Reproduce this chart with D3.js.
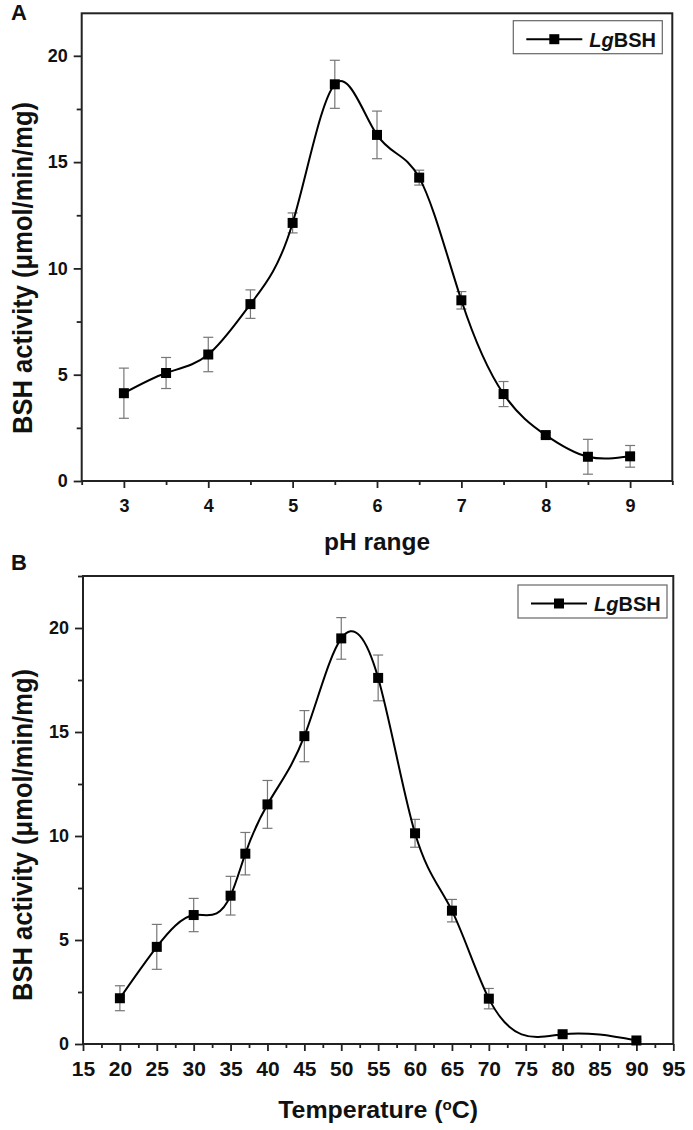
<!DOCTYPE html>
<html>
<head>
<meta charset="utf-8">
<script src="https://cdn.jsdelivr.net/npm/d3@7"></script>
<style>
    body { margin: 0; background: #fff; }
    svg text { font-family: "Liberation Sans", Arial, sans-serif; font-weight: bold; fill: #111; }
</style>
</head>
<body>
<div id="chart"></div>
<script>
// Panel A: activity vs pH
var phValues = [3, 3.5, 4, 4.5, 5, 5.5, 6, 6.5, 7, 7.5, 8, 8.5, 9];
var phActivity = [4.13, 5.08, 5.95, 8.32, 12.14, 18.66, 16.28, 14.27, 8.5, 4.09, 2.16, 1.14, 1.16];
var phError = [1.18, 0.73, 0.81, 0.67, 0.47, 1.13, 1.12, 0.35, 0.41, 0.59, 0.12, 0.82, 0.51];
var phTicks = [3, 4, 5, 6, 7, 8, 9];
var phMinorTicks = [2.5, 3.5, 4.5, 5.5, 6.5, 7.5, 8.5, 9.5];

// Panel B: activity vs temperature
var tempValues = [20, 25, 30, 35, 37, 40, 45, 50, 55, 60, 65, 70, 80, 90];
var tempActivity = [2.2, 4.67, 6.2, 7.13, 9.15, 11.52, 14.8, 19.5, 17.6, 10.13, 6.41, 2.18, 0.47, 0.17];
var tempError = [0.6, 1.08, 0.8, 0.93, 1.02, 1.15, 1.23, 1.0, 1.1, 0.67, 0.54, 0.49, 0.1, 0.06];
var tempTicks = [15, 20, 25, 30, 35, 40, 45, 50, 55, 60, 65, 70, 75, 80, 85, 90, 95];
var tempMinorTicks = [17.5, 22.5, 27.5, 32.5, 37.5, 42.5, 47.5, 52.5, 57.5, 62.5, 67.5, 72.5, 77.5, 82.5, 87.5, 92.5];

// shared y axis
var activityTicks = [0, 5, 10, 15, 20];
var activityMinorTicks = [2.5, 7.5, 12.5, 17.5, 22.5];
var yTitle = 'BSH activity (\u03bcmol/min/mg)';
var legendItalic = 'Lg';
var legendPlain = 'BSH';

var svg = d3.select('#chart').append('svg')
    .attr('width', 693)
    .attr('height', 1130);

/**
 * Natural cubic spline with y as a function of x (like Origin's "Spline" connect),
 * written as a d3 curve so it can be passed to d3.line().curve()
 */
function SplineX(context)
{
    this._context = context;
}
SplineX.prototype = {
    areaStart: function() {},
    areaEnd: function() {},
    lineStart: function() { this._x = []; this._y = []; },
    point: function(x, y) { this._x.push(+x); this._y.push(+y); },
    lineEnd: function() {
        var xs = this._x, ys = this._y, n = xs.length - 1, c = this._context;
        if (n < 1) return;
        var h = [], i;
        for (i = 0; i < n; i++) h.push(xs[i + 1] - xs[i]);

        // second derivatives, natural ends (tridiagonal solve)
        var M = new Array(n + 1).fill(0);
        if (n > 1) {
            var a = [], b = [], cc = [], r = [];
            for (i = 1; i < n; i++) {
                a.push(h[i - 1]);
                b.push(2 * (h[i - 1] + h[i]));
                cc.push(h[i]);
                r.push(6 * ((ys[i + 1] - ys[i]) / h[i] - (ys[i] - ys[i - 1]) / h[i - 1]));
            }
            var m = b.length;
            for (i = 1; i < m; i++) {
                var w = a[i] / b[i - 1];
                b[i] -= w * cc[i - 1];
                r[i] -= w * r[i - 1];
            }
            var sol = new Array(m);
            sol[m - 1] = r[m - 1] / b[m - 1];
            for (i = m - 2; i >= 0; i--) sol[i] = (r[i] - cc[i] * sol[i + 1]) / b[i];
            for (i = 0; i < m; i++) M[i + 1] = sol[i];
        }

        c.moveTo(xs[0], ys[0]);
        for (i = 0; i < n; i++) {
            var s = (ys[i + 1] - ys[i]) / h[i];
            var d0 = s - h[i] * (2 * M[i] + M[i + 1]) / 6;
            var d1 = s + h[i] * (M[i] + 2 * M[i + 1]) / 6;
            c.bezierCurveTo(
                xs[i] + h[i] / 3, ys[i] + d0 * h[i] / 3,
                xs[i + 1] - h[i] / 3, ys[i + 1] - d1 * h[i] / 3,
                xs[i + 1], ys[i + 1]);
        }
    }
};
function curveSplineX(context) { return new SplineX(context); }

/**
 * One panel of the figure
 */
function ActivityChart(svg, opts)
{
    var self = this;
    self.svg = svg;
    self.opts = opts;
    self.init();
}

ActivityChart.prototype.init = function()
{
    var self = this;
    var o = self.opts;

    self.x = d3.scaleLinear().domain(o.xDomain).range([o.left, o.right]);
    self.y = d3.scaleLinear().domain(o.yDomain).range([o.bottom, o.top]);
    self.g = self.svg.append('g');
};

ActivityChart.prototype.update = function()
{
    var self = this;
    var o = self.opts;
    var x = self.x, y = self.y;

    var data = o.xs.map(function(v, i) {
        return {x: v, y: o.ys[i], e: o.err[i]};
    });

    var yMinorTicks = activityMinorTicks.filter(function(v) { return v <= o.yDomain[1]; });

    // minor ticks first, majors on top
    var xMinor = d3.axisBottom(x).tickValues(o.xMinor).tickSize(4).tickFormat('');
    var yMinor = d3.axisLeft(y).tickValues(yMinorTicks).tickSize(5).tickFormat('');
    var xAxis = d3.axisBottom(x).tickValues(o.xTicks).tickSize(7).tickPadding(o.xPad)
        .tickSizeOuter(0).tickFormat(d3.format('d'));
    var yAxis = d3.axisLeft(y).tickValues(activityTicks).tickSize(8).tickPadding(6)
        .tickSizeOuter(0).tickFormat(d3.format('d'));

    [xMinor, xAxis].forEach(function(ax) {
        self.g.append('g')
            .attr('class', 'x axis')
            .attr('transform', 'translate(0,' + o.bottom + ')')
            .call(ax);
    });
    [yMinor, yAxis].forEach(function(ax) {
        self.g.append('g')
            .attr('class', 'y axis')
            .attr('transform', 'translate(' + o.left + ',0)')
            .call(ax);
    });

    self.g.selectAll('.axis path.domain').remove();
    self.g.selectAll('.axis line').attr('stroke', '#222').attr('stroke-width', 1.8);
    self.g.selectAll('.axis text').attr('font-family', null).attr('fill', '#111');
    self.g.selectAll('.x.axis text').attr('font-size', o.xTickFont);
    self.g.selectAll('.y.axis text').attr('font-size', 18);

    // plot frame
    self.g.append('rect')
        .attr('x', o.left)
        .attr('y', o.top)
        .attr('width', o.right - o.left)
        .attr('height', o.bottom - o.top)
        .style('fill', 'none')
        .style('stroke', '#222')
        .style('stroke-width', 2);

    // error bars
    var bars = self.g.append('g').selectAll('g').data(data).enter().append('g')
        .style('stroke', '#777')
        .style('stroke-width', 1.2);
    bars.append('line')
        .attr('x1', function(d) { return x(d.x); })
        .attr('x2', function(d) { return x(d.x); })
        .attr('y1', function(d) { return y(d.y - d.e); })
        .attr('y2', function(d) { return y(d.y + d.e); });
    [-1, 1].forEach(function(s) {
        bars.append('line')
            .attr('x1', function(d) { return x(d.x) - 5; })
            .attr('x2', function(d) { return x(d.x) + 5; })
            .attr('y1', function(d) { return y(d.y + s * d.e); })
            .attr('y2', function(d) { return y(d.y + s * d.e); });
    });

    // smoothed line through the points
    var valueLine = d3.line()
        .curve(curveSplineX)
        .x(function(d) { return x(d.x); })
        .y(function(d) { return y(d.y); });

    self.g.append('path')
        .attr('d', valueLine(data))
        .style('fill', 'none')
        .style('stroke', '#000')
        .style('stroke-width', 2);

    self.g.append('g').selectAll('rect').data(data).enter().append('rect')
        .attr('x', function(d) { return x(d.x) - 5; })
        .attr('y', function(d) { return y(d.y) - 5; })
        .attr('width', 10)
        .attr('height', 10)
        .style('fill', '#000');

    // axis titles
    self.g.append('text')
        .attr('transform', 'translate(32,' + o.yTitleY + ') rotate(-90)')
        .attr('text-anchor', 'middle')
        .attr('font-size', 28)
        .attr('textLength', 332)
        .attr('lengthAdjust', 'spacingAndGlyphs')
        .text(yTitle);

    var xt = self.g.append('text')
        .attr('x', (o.left + o.right) / 2)
        .attr('y', o.xTitleY)
        .attr('text-anchor', 'middle')
        .attr('font-size', 23)
        .attr('textLength', o.xTitleLen)
        .attr('lengthAdjust', 'spacingAndGlyphs');
    o.xTitle(xt);

    // panel letter
    self.g.append('text')
        .attr('x', 11)
        .attr('y', o.letterY)
        .attr('font-size', 22)
        .text(o.letter);

    // legend
    var lg = self.g.append('g')
        .attr('transform', 'translate(' + o.legend[0] + ',' + o.legend[1] + ')');
    lg.append('rect')
        .attr('width', 149)
        .attr('height', 33)
        .style('fill', '#fff')
        .style('stroke', '#666')
        .style('stroke-width', 1.2);
    lg.append('line')
        .attr('x1', 13).attr('x2', 69)
        .attr('y1', 18.5).attr('y2', 18.5)
        .style('stroke', '#000')
        .style('stroke-width', 2);
    lg.append('rect')
        .attr('x', 36).attr('y', 13.5)
        .attr('width', 10).attr('height', 10)
        .style('fill', '#000');
    var lt = lg.append('text')
        .attr('x', 76)
        .attr('y', 26)
        .attr('font-size', 20);
    lt.append('tspan').attr('font-style', 'italic').text(legendItalic);
    lt.append('tspan').text(legendPlain);
};

var chartA = new ActivityChart(svg, {
    letter: 'A', letterY: 20,
    xs: phValues, ys: phActivity, err: phError,
    xDomain: [2.5, 9.5], yDomain: [0, 22],
    xTicks: phTicks, xMinor: phMinorTicks,
    left: 81.7, right: 672.3, top: 13.3, bottom: 481,
    xPad: 11, xTickFont: 18,
    xTitleY: 550, xTitleLen: 106,
    xTitle: function(t) { t.text('pH range'); },
    yTitleY: 268,
    legend: [513.3, 20.7]
});
chartA.update();

var chartB = new ActivityChart(svg, {
    letter: 'B', letterY: 570,
    xs: tempValues, ys: tempActivity, err: tempError,
    xDomain: [15, 95], yDomain: [0, 22.5],
    xTicks: tempTicks, xMinor: tempMinorTicks,
    left: 83, right: 673.3, top: 576, bottom: 1044,
    xPad: 10.5, xTickFont: 21,
    xTitleY: 1118, xTitleLen: 200,
    xTitle: function(t) {
        t.append('tspan').text('Temperature (');
        t.append('tspan').attr('font-size', 14).attr('dy', -8).text('o');
        t.append('tspan').attr('dy', 8).text('C)');
    },
    yTitleY: 835,
    legend: [518, 585]
});
chartB.update();
</script>
</body>
</html>
